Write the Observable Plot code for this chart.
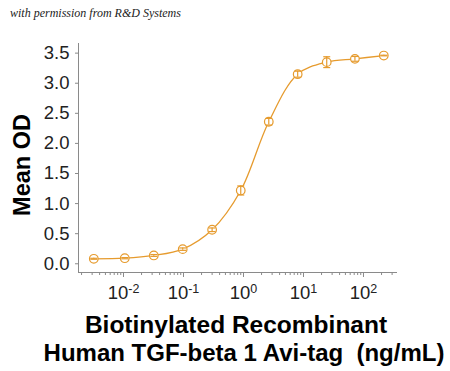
<!DOCTYPE html>
<html>
<head>
<meta charset="utf-8">
<script src="https://cdn.jsdelivr.net/npm/d3@7"></script>
<script src="https://cdn.jsdelivr.net/npm/@observablehq/plot@0.6"></script>
<style>
  html, body { margin: 0; padding: 0; background: #fff; }
  #wrap { position: relative; width: 450px; height: 371px; overflow: hidden; background: #fff; }
  #wrap svg { position: absolute; left: 0; top: 0; }
  .note { position: absolute; left: 10px; top: 6px; font-family: "Liberation Serif", "DejaVu Serif", serif; font-style: italic; font-size: 12px; color: #222; white-space: pre; }
  .ylab { position: absolute; left: 22px; top: 165px; transform: translate(-50%, -50%) rotate(-90deg); font-family: "Liberation Sans", Arial, sans-serif; font-weight: bold; font-size: 23.5px; color: #000; white-space: pre; }
  .xlab { position: absolute; font-family: "Liberation Sans", Arial, sans-serif; font-weight: bold; font-size: 24px; line-height: 28px; color: #000; white-space: pre; transform: translateX(-50%); }
</style>
</head>
<body>
<div id="wrap">
  <div class="note">with permission from R&amp;D Systems</div>
  <div class="ylab">Mean OD</div>
  <div class="xlab" style="left:236px; top:311px; font-size:24.5px;">Biotinylated Recombinant</div>
  <div class="xlab" style="left:244px; top:339px;">Human TGF-beta 1 Avi-tag  (ng/mL)</div>
</div>
<script>
// Data
const conc   = [0.0032, 0.0105, 0.032, 0.097, 0.30, 0.90, 2.64, 8.0, 24.4, 72, 218];
const meanOD = [0.083, 0.093, 0.138, 0.243, 0.565, 1.218, 2.36, 3.15, 3.35, 3.405, 3.46];
const errOD  = [0.008, 0.01, 0.015, 0.02, 0.03, 0.075, 0.055, 0.05, 0.09, 0.04, 0.005];
const xTicks = [0.01, 0.1, 1, 10, 100];
const xTickExponents = ["-2", "-1", "0", "1", "2"];
const yTicks = [0, 0.5, 1.0, 1.5, 2.0, 2.5, 3.0, 3.5];

const data = conc.map((c, i) => ({conc: c, od: meanOD[i], lo: meanOD[i] - errOD[i], hi: meanOD[i] + errOD[i]}));

const xDomain = [Math.pow(10, -2.75), Math.pow(10, 2.567)];
const yDomain = [-0.145, 3.66];

const minorTicks = [];
for (let e = -3; e <= 2; e++) for (let m = 2; m <= 9; m++) {
  const v = m * Math.pow(10, e);
  if (v >= xDomain[0] && v <= xDomain[1]) minorTicks.push(v);
}

const orange = "#E69B2E";
const axisGray = "#8a8a8a";

const capSymbol = {
  draw(ctx, size) {
    const w = Math.sqrt(size / Math.PI);
    ctx.moveTo(-w, 0);
    ctx.lineTo(w, 0);
  }
};

const chart = Plot.plot({
  width: 450,
  height: 371,
  marginLeft: 78,
  marginRight: 53,
  marginTop: 43,
  marginBottom: 99,
  style: {fontFamily: "'Liberation Sans', Arial, sans-serif", background: "transparent", overflow: "visible"},
  x: {type: "log", domain: xDomain},
  y: {domain: yDomain},
  marks: [
    Plot.ruleX([xDomain[0]], {stroke: axisGray, strokeWidth: 1}),
    Plot.ruleY([yDomain[0]], {stroke: axisGray, strokeWidth: 1}),
    Plot.axisY(yTicks, {tickSize: 3, tickPadding: 6, tickFormat: d3.format(".1f"), fontSize: 18.5, label: null, color: "#222", stroke: axisGray}),
    Plot.axisX(minorTicks, {y: yDomain[0], tickSize: 3, tickFormat: () => "", label: null, stroke: axisGray}),
    Plot.axisX(xTicks, {y: yDomain[0], tickSize: 5, tickPadding: 8, tickFormat: (d) => xTickExponents[xTicks.indexOf(d)], fontSize: 18.5, label: null, color: "#222", stroke: axisGray}),
    Plot.line(data, {x: "conc", y: "od", curve: "catmull-rom", stroke: orange, strokeWidth: 1.3}),
    Plot.dot(data, {x: "conc", y: "od", r: 4.3, stroke: orange, fill: "white", strokeWidth: 1.2}),
    Plot.ruleX(data, {x: "conc", y1: "lo", y2: "hi", stroke: orange, strokeWidth: 1.2}),
    Plot.dot(data, {x: "conc", y: "lo", r: 3.5, symbol: capSymbol, stroke: orange, strokeWidth: 1.2}),
    Plot.dot(data, {x: "conc", y: "hi", r: 3.5, symbol: capSymbol, stroke: orange, strokeWidth: 1.2})
  ]
});

document.getElementById("wrap").prepend(chart);

// Turn x tick labels into "10" with superscript exponent
chart.querySelectorAll('g[aria-label="x-axis tick label"] text').forEach(t => {
  const exp = t.textContent;
  if (!exp) return;
  t.textContent = "";
  const base = document.createElementNS("http://www.w3.org/2000/svg", "tspan");
  base.textContent = "10";
  const sup = document.createElementNS("http://www.w3.org/2000/svg", "tspan");
  sup.textContent = exp;
  sup.setAttribute("dy", "-6");
  sup.setAttribute("font-size", "12.5");
  t.appendChild(base);
  t.appendChild(sup);
});
</script>
</body>
</html>
